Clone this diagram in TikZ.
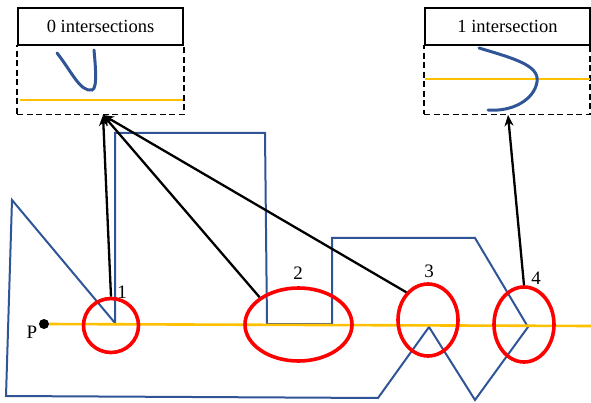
\documentclass[tikz,border=0pt]{standalone}
\usepackage{fontspec}
\setmainfont{Liberation Serif}
\usetikzlibrary{arrows.meta,shapes.geometric}
\definecolor{poly}{HTML}{2F5597}
\definecolor{ray}{HTML}{FFC000}
\definecolor{mark}{HTML}{FF0000}
\begin{document}
\begin{tikzpicture}[x=1pt,y=-1pt,
  polyline/.style={draw=poly,line width=2pt,line join=miter},
  curveline/.style={draw=poly,line width=3pt,line cap=round},
  rayline/.style={draw=ray,line width=2.6pt},
  ring/.style={ellipse,draw=mark,line width=3.6pt,inner sep=0pt},
  pointer/.style={draw=black,line width=2.3pt,-{Stealth[length=11pt,width=9pt]}},
  titlebox/.style={draw,line width=2.2pt,inner sep=0pt,font=\fontsize{18.5}{20}\selectfont},
  viewbox/.style={draw,line width=1.8pt,dash pattern=on 6pt off 3.5pt,inner sep=0pt},
  num/.style={font=\fontsize{19}{21}\selectfont,inner sep=0pt}]
\useasboundingbox (0,0) rectangle (591,403);
% polygon
\draw[polyline] (12,200) -- (115,323) -- (115,133) -- (265,133) -- (267,324) -- (332,324)
  -- (332,238) -- (475,238) -- (528,327) -- (475,400) -- (429,327) -- (378,398)
  -- (6,396) -- cycle;
% point P and ray
\node[circle,fill=black,inner sep=0pt,minimum size=10pt] (P) at (44,324) {};
\node[num] (Plab) at (32,332) {P};
\coordinate (rayend) at (591,326);
\draw[rayline] (P) -- (rayend);
% rings
\node[ring,minimum width=55pt,minimum height=54pt] (e1) at (111,325.5) {};
\node[ring,minimum width=107pt,minimum height=73pt] (e2) at (298.5,324.5) {};
\node[ring,minimum width=60pt,minimum height=72pt] (e3) at (428,320) {};
\node[ring,minimum width=60pt,minimum height=75pt] (e4) at (524,324.5) {};
\node[num] (n1) at (122,292) {1};
\node[num] (n2) at (298,273) {2};
\node[num] (n3) at (429,271) {3};
\node[num] (n4) at (536,278) {4};
% boxes
\node[titlebox,minimum width=165pt,minimum height=37pt] (t0) at (100.5,26.5) {0 intersections};
\node[viewbox,minimum width=167pt,minimum height=69pt] (b0) at (100.5,80) {};
\node[titlebox,minimum width=165pt,minimum height=37pt] (t1) at (507.5,26.5) {1 intersection};
\node[viewbox,minimum width=166pt,minimum height=69pt] (b1) at (507,80) {};
% box contents
\coordinate (y0a) at (20,100); \coordinate (y0b) at (183,100);
\draw[rayline] (y0a) -- (y0b);
\draw[curveline] (57,53) .. controls (72,72) and (80,92) .. (92,90) .. controls (98,89) and (95,62) .. (94,50);
\coordinate (y1a) at (425,79); \coordinate (y1b) at (590,79);
\draw[rayline] (y1a) -- (y1b);
\draw[curveline] (479,48) .. controls (512,58) and (540,65) .. (537,82) .. controls (534,100) and (512,112) .. (488,110);
% arrows
\coordinate (a0) at (103,115);
\coordinate (a1) at (508,115);
\draw[pointer] (e1.north) -- (a0);
\draw[pointer] (e2.145) -- (a0);
\draw[pointer] (e3.128) -- (a0);
\draw[pointer] (e4.north) -- (a1);
\end{tikzpicture}
\end{document}
